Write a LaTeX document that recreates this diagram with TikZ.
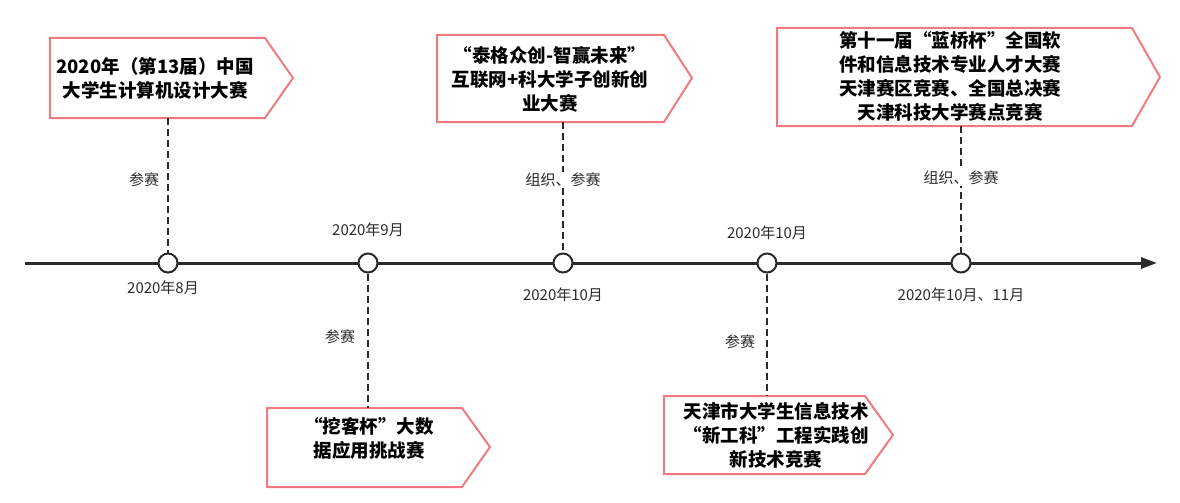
\documentclass[tikz,border=0pt]{standalone}
\usepackage{fontspec}
\setmainfont{Noto Sans CJK SC}
\usetikzlibrary{arrows.meta}
\definecolor{evpink}{HTML}{F07A80}
\definecolor{evline}{HTML}{2B2B2B}
\tikzset{
  evbox/.style={draw=evpink,line width=2pt,fill=white},
  evtext/.style={font=\bfseries\fontsize{18.5}{24}\selectfont,align=center,text=black,inner sep=0pt},
  evdot/.style={circle,draw=evline,line width=2pt,fill=white,minimum size=19pt,inner sep=0pt},
  evlink/.style={draw=evline,dash pattern=on 7pt off 4pt,line width=1.8pt},
  evnote/.style={font=\fontsize{15}{18}\selectfont,text=evline,inner sep=1pt}
}
\begin{document}
\begin{tikzpicture}[x=1pt,y=-1pt]
  \useasboundingbox (0,0) rectangle (1180,503);
  % timeline
  \coordinate (t0) at (25,263);
  \coordinate (t1) at (1157,263);
  \draw[evline,line width=3pt,-{Triangle[length=16pt,width=11pt]}] (t0) -- (t1);
  \node[evdot] (d1) at (168,263) {};
  \node[evdot] (d2) at (368,263) {};
  \node[evdot] (d3) at (563,263) {};
  \node[evdot] (d4) at (767,263) {};
  \node[evdot] (d5) at (961,263) {};

  % boxes
  \draw[evbox] (50,38) -- (265,38) -- (293,78) -- (265,118) -- (50,118) -- cycle;
  \node[evtext] (b1) at (155,78) {2020年（第13届）中国\\大学生计算机设计大赛};
  \coordinate (b1s) at (168,118);
  \draw[evbox] (437,35) -- (664,35) -- (692,78) -- (664,122) -- (437,122) -- cycle;
  \node[evtext] (b2) at (550,79) {“泰格众创-智赢未来”\\互联网+科大学子创新创\\业大赛};
  \coordinate (b2s) at (563,122);
  \draw[evbox] (777,28) -- (1132,28) -- (1160,77) -- (1132,126) -- (777,126) -- cycle;
  \node[evtext] (b3) at (950,76) {第十一届“蓝桥杯”全国软\\件和信息技术专业人才大赛\\天津赛区竞赛、全国总决赛\\天津科技大学赛点竞赛};
  \coordinate (b3s) at (961,126);
  \draw[evbox] (267,408) -- (462,408) -- (490,447) -- (462,487) -- (267,487) -- cycle;
  \node[evtext] (b4) at (369,438) {“挖客杯”大数\\据应用挑战赛};
  \coordinate (b4n) at (368,408);
  \draw[evbox] (664,396) -- (865,396) -- (893,435) -- (865,474) -- (664,474) -- cycle;
  \node[evtext] (b5) at (776,435) {天津市大学生信息技术\\“新工科”工程实践创\\新技术竞赛};
  \coordinate (b5n) at (767,396);

  % links
  \draw[evlink] (b1s) -- (d1);
  \draw[evlink] (b2s) -- (d3);
  \draw[evlink] (b3s) -- (d5);
  \draw[evlink] (d2) -- (b4n);
  \draw[evlink] (d4) -- (b5n);

  % notes
  \node[evnote] (n1) at (144,180) {参赛};
  \node[evnote,fill=white] (n2) at (563,180) {组织、参赛};
  \node[evnote,fill=white] (n3) at (961,178) {组织、参赛};
  \node[evnote] (n4) at (340,337) {参赛};
  \node[evnote] (n5) at (740,342) {参赛};

  % dates
  \node[evnote] (m1) at (163,288) {2020年8月};
  \node[evnote] (m2) at (368,230) {2020年9月};
  \node[evnote] (m3) at (563,295) {2020年10月};
  \node[evnote] (m4) at (767,233) {2020年10月};
  \node[evnote] (m5) at (961,295) {2020年10月、11月};
\end{tikzpicture}
\end{document}
